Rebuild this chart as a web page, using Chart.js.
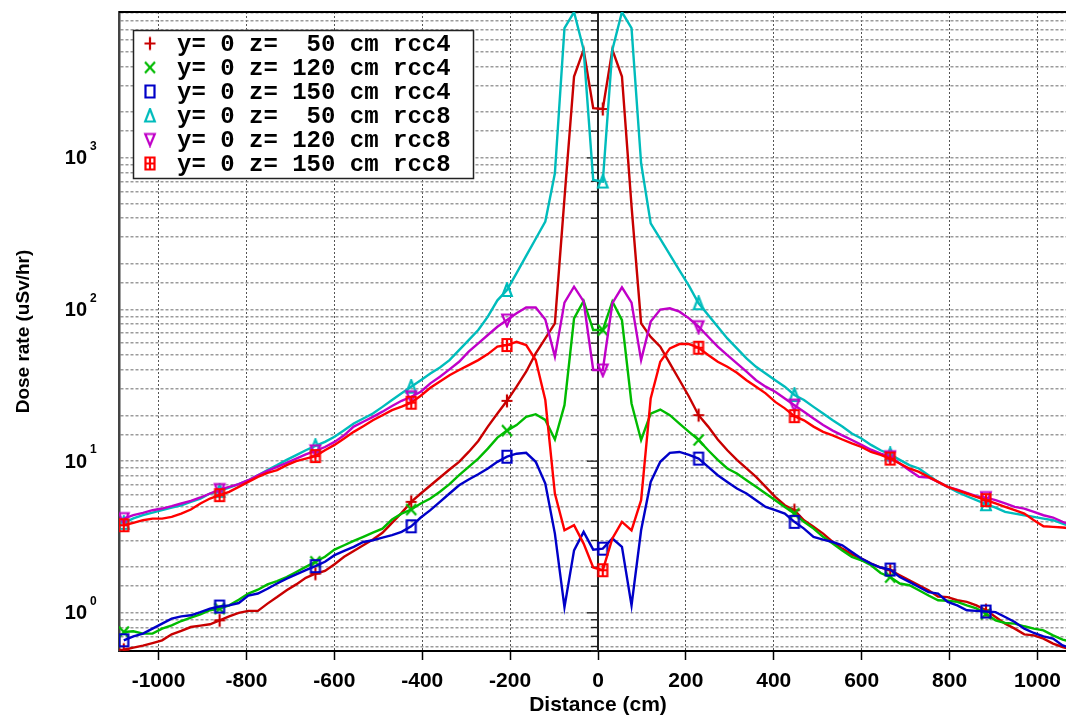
<!DOCTYPE html>
<html>
<head>
<meta charset="utf-8">
<script src="https://cdn.jsdelivr.net/npm/chart.js@4.4.1/dist/chart.umd.min.js"></script>
<style>
  html, body { margin: 0; padding: 0; background: #fff; overflow: hidden; }
  #wrap { width: 1090px; height: 716px; }
</style>
</head>
<body>
<div id="wrap"><canvas id="dose-chart" width="1090" height="716"></canvas></div>
<script>
// bin centres along the scan line (cm)
const distanceCm = [
  -1079.1, -1057.3, -1035.5, -1013.7, -991.9, -970.1, -948.3, -926.5, -904.7, -882.9,
  -861.1, -839.3, -817.5, -795.7, -773.9, -752.1, -730.3, -708.5, -686.7, -664.9,
  -643.1, -621.3, -599.5, -577.7, -555.9, -534.1, -512.3, -490.5, -468.7, -446.9,
  -425.1, -403.3, -381.5, -359.7, -337.9, -316.1, -294.3, -272.5, -250.7, -228.9,
  -207.1, -185.3, -163.5, -141.7, -119.9, -98.1, -76.3, -54.5, -32.7, -10.9,
  10.9, 32.7, 54.5, 76.3, 98.1, 119.9, 141.7, 163.5, 185.3, 207.1,
  228.9, 250.7, 272.5, 294.3, 316.1, 337.9, 359.7, 381.5, 403.3, 425.1,
  446.9, 468.7, 490.5, 512.3, 534.1, 555.9, 577.7, 599.5, 621.3, 643.1,
  664.9, 686.7, 708.5, 730.3, 752.1, 773.9, 795.7, 817.5, 839.3, 861.1,
  882.9, 904.7, 926.5, 948.3, 970.1, 991.9, 1013.7, 1035.5, 1057.3, 1079.1,
];

const rcc4z50 = [
  0.571, 0.589, 0.607, 0.632, 0.658, 0.721, 0.759, 0.806, 0.823, 0.84,
  0.892, 0.948, 1.0, 1.03, 1.03, 1.15, 1.27, 1.41, 1.54, 1.70,
  1.81, 1.89, 2.09, 2.34, 2.56, 2.79, 3.04, 3.37, 3.92, 4.56,
  5.39, 6.12, 6.91, 7.8, 8.81, 9.9, 11.5, 13.6, 16.9, 20.6,
  25.0, 31, 38.9, 51.4, 64.6, 81, 540, 3440, 5160, 2130,
  2100, 5160, 3440, 480, 81, 66, 56.9, 44.2, 34.3, 26.6,
  20.1, 16.9, 13.9, 11.8, 10.2, 8.95, 7.88, 6.77, 5.82, 5.12,
  4.75, 4.08, 3.69, 3.33, 2.93, 2.65, 2.43, 2.28, 2.11, 1.99,
  1.91, 1.77, 1.64, 1.52, 1.41, 1.28, 1.27, 1.21, 1.18, 1.12,
  1.04, 0.939, 0.848, 0.786, 0.721, 0.71, 0.676, 0.626, 0.595, 0.571,
];

const rcc4z120 = [
  0.747, 0.755, 0.729, 0.729, 0.786, 0.827, 0.883, 0.929, 0.977, 1.04,
  1.065, 1.12, 1.22, 1.34, 1.42, 1.54, 1.62, 1.72, 1.86, 2.01,
  2.17, 2.34, 2.61, 2.79, 2.98, 3.17, 3.38, 3.59, 4.12, 4.51,
  4.80, 5.26, 5.67, 6.28, 7.05, 8.08, 9.18, 10.4, 12.1, 14.3,
  15.9, 17.3, 19.6, 20.4, 18.7, 13.9, 23.4, 87.4, 114, 73.2,
  73.2, 113, 85, 24, 13.8, 20.6, 21.9, 20.1, 17.7, 15.6,
  13.8, 11.8, 10.2, 8.95, 8.29, 7.49, 6.77, 6.12, 5.53, 4.99,
  4.51, 3.98, 3.59, 3.17, 2.86, 2.58, 2.34, 2.22, 2.06, 1.83,
  1.72, 1.56, 1.52, 1.41, 1.30, 1.21, 1.2, 1.18, 1.12, 1.07,
  0.987, 0.892, 0.857, 0.848, 0.815, 0.786, 0.766, 0.71, 0.665, 0.642,
];

const rcc4z150 = [
  0.659, 0.70, 0.729, 0.786, 0.848, 0.915, 0.948, 0.963, 1.01, 1.065,
  1.10, 1.12, 1.16, 1.30, 1.34, 1.44, 1.56, 1.68, 1.79, 1.91,
  2.03, 2.17, 2.40, 2.56, 2.72, 2.93, 3.01, 3.13, 3.25, 3.42,
  3.72, 4.25, 4.75, 5.39, 6.12, 6.94, 7.57, 8.2, 8.95, 9.9,
  10.7, 11.2, 11.35, 9.9, 7.12, 3.33, 1.09, 2.58, 3.42, 2.61,
  2.65, 3.09, 2.72, 1.12, 3.5, 7.3, 9.9, 11.35, 11.5, 11.0,
  10.4, 9.18, 8.08, 7.3, 6.6, 6.12, 5.53, 4.99, 4.75, 4.51,
  3.98, 3.59, 3.17, 3.04, 2.93, 2.79, 2.52, 2.28, 2.11, 1.99,
  1.93, 1.72, 1.60, 1.48, 1.37, 1.34, 1.18, 1.12, 1.04, 1.03,
  1.02, 1.01, 0.939, 0.87, 0.786, 0.736, 0.70, 0.676, 0.61, 0.58,
];

const rcc8z50 = [
  3.92, 4.19, 4.41, 4.58, 4.75, 4.94, 5.12, 5.39, 5.67, 6.12,
  6.37, 6.7, 7.05, 7.49, 8.08, 8.72, 9.41, 10.2, 10.96, 11.8,
  12.6, 13.4, 14.5, 16.0, 17.7, 19.1, 20.6, 22.8, 25.3, 28.0,
  31.0, 34.2, 37.9, 41.5, 46.4, 54.0, 62.9, 73.2, 89.7, 115,
  134.5, 174, 226, 293, 380, 792, 7170, 9150, 5160, 716,
  698, 5160, 9150, 7170, 922, 370, 292, 230, 181, 143,
  110, 92, 77, 64.5, 55.4, 47.6, 41.9, 37.9, 34.2, 31.0,
  27.3, 25.3, 22.8, 20.6, 18.6, 16.9, 15.2, 14.1, 12.8, 11.8,
  11.1, 10.2, 9.41, 8.95, 8.08, 7.3, 6.77, 6.28, 5.87, 5.53,
  5.2, 4.94, 4.63, 4.51, 4.40, 4.29, 4.18, 4.08, 3.88, 3.69,
];

const rcc8z120 = [
  4.18, 4.41, 4.56, 4.75, 4.87, 5.05, 5.26, 5.47, 5.76, 6.12,
  6.5, 6.77, 7.05, 7.49, 8.08, 8.63, 9.18, 9.75, 10.4, 11.1,
  11.7, 12.4, 13.4, 14.8, 16.9, 18.2, 19.6, 21.2, 23.1, 25.0,
  26.6, 28.7, 32.6, 36.0, 40.3, 45.2, 52.7, 59.8, 67.9, 77.0,
  85.2, 94.4, 103, 103, 86, 48.9, 111, 141.5, 113, 39.9,
  39.9, 110, 140, 111, 46.4, 83.2, 100, 101.8, 96.8, 87.4,
  77, 66.1, 56.9, 50.1, 44.1, 38.9, 34.2, 31.0, 28.7, 25.9,
  23.4, 21.2, 19.1, 17.3, 15.9, 14.8, 13.8, 12.8, 11.9, 11.2,
  10.7, 9.65, 8.72, 7.88, 7.8, 7.3, 6.77, 6.5, 6.18, 5.87,
  5.75, 5.53, 5.26, 4.99, 4.87, 4.63, 4.40, 4.25, 3.98, 3.78,
];

const rcc8z150 = [
  3.78, 3.92, 4.08, 4.18, 4.18, 4.29, 4.51, 4.80, 5.26, 5.67,
  5.97, 6.28, 6.77, 7.3, 7.88, 8.37, 8.72, 9.41, 10.0, 10.4,
  10.8, 11.8, 12.8, 14.1, 15.6, 17.0, 18.6, 20.1, 21.7, 22.9,
  24.3, 27.0, 30.5, 33.5, 36.9, 39.9, 43.0, 46.4, 50.8, 56.9,
  58.3, 61.3, 58.3, 46.4, 25.3, 6.12, 3.5, 3.78, 2.86, 1.99,
  1.91, 3.09, 3.98, 3.5, 5.53, 25.9, 45.2, 55.4, 59.2, 59.2,
  56, 50.1, 45.2, 41.9, 38.3, 34.2, 31.0, 28.0, 24.6, 22.3,
  19.8, 18.6, 16.9, 15.6, 14.8, 13.9, 13.1, 12.4, 11.5, 11.0,
  10.4, 9.65, 8.95, 8.5, 7.88, 7.3, 6.77, 6.44, 6.12, 5.82,
  5.53, 5.26, 4.99, 4.75, 4.51, 4.08, 3.72, 3.69, 3.65, 3.6,
];

const seriesLabels = [
  "y= 0 z=  50 cm rcc4",
  "y= 0 z= 120 cm rcc4",
  "y= 0 z= 150 cm rcc4",
  "y= 0 z=  50 cm rcc8",
  "y= 0 z= 120 cm rcc8",
  "y= 0 z= 150 cm rcc8",
];
const seriesValues = [rcc4z50, rcc4z120, rcc4z150, rcc8z50, rcc8z120, rcc8z150];
const seriesColors = ["#c80000", "#00bb00", "#0000c8", "#00bcbc", "#c000c8", "#ff0000"];
const seriesMarkers = ["plus", "cross", "rect", "triUp", "triDown", "boxPlus"];
const xTickValues = [-1000, -800, -600, -400, -200, 0, 200, 400, 600, 800, 1000];
const yDecades = [1, 10, 100, 1000];

const sansFont = "'Liberation Sans', Arial, sans-serif";
const monoFont = "'Liberation Mono', 'Courier New', monospace";
Chart.defaults.font.family = sansFont;
Chart.defaults.color = "#000";

function makeMarker(shape, color) {
  const c = document.createElement("canvas");
  c.width = 14;
  c.height = 16;
  const g = c.getContext("2d");
  g.strokeStyle = color;
  g.lineWidth = 2.2;
  g.translate(7, 8);
  g.beginPath();
  if (shape === "plus") {
    g.moveTo(-5.5, 0); g.lineTo(5.5, 0);
    g.moveTo(0, -6.5); g.lineTo(0, 6.5);
  } else if (shape === "cross") {
    g.moveTo(-5, -5.5); g.lineTo(5, 5.5);
    g.moveTo(5, -5.5); g.lineTo(-5, 5.5);
  } else if (shape === "rect") {
    g.rect(-4.5, -6, 9, 12);
  } else if (shape === "triUp") {
    g.moveTo(0, -6.5); g.lineTo(4.8, 6); g.lineTo(-4.8, 6); g.closePath();
  } else if (shape === "triDown") {
    g.moveTo(0, 6); g.lineTo(4.8, -5.5); g.lineTo(-4.8, -5.5); g.closePath();
  } else if (shape === "boxPlus") {
    g.rect(-4.5, -6, 9, 12);
    g.moveTo(-4.5, 0); g.lineTo(4.5, 0);
    g.moveTo(0, -6); g.lineTo(0, 6);
  }
  g.stroke();
  return c;
}

const markerImages = seriesMarkers.map((m, i) => makeMarker(m, seriesColors[i]));

function isDecade(v) {
  const e = Math.log10(v);
  return Math.abs(e - Math.round(e)) < 1e-6;
}

const frameAndLabels = {
  id: "frameAndLabels",
  beforeDatasetsDraw(chart) {
    const { ctx, chartArea: area, scales } = chart;
    const x0 = scales.x.getPixelForValue(0);
    ctx.save();
    // vertical axis through x = 0 with its ticks
    ctx.strokeStyle = "#222";
    ctx.lineWidth = 2;
    ctx.beginPath();
    ctx.moveTo(x0, area.top);
    ctx.lineTo(x0, area.bottom);
    ctx.stroke();
    ctx.lineWidth = 1.3;
    for (const tick of scales.y.ticks) {
      const y = scales.y.getPixelForValue(tick.value);
      const len = isDecade(tick.value) ? 11 : 7;
      ctx.beginPath();
      ctx.moveTo(x0 - len, y);
      ctx.lineTo(x0, y);
      ctx.stroke();
    }
    // frame top
    ctx.strokeStyle = "#000";
    ctx.lineWidth = 2;
    ctx.beginPath();
    ctx.moveTo(area.left, area.top);
    ctx.lineTo(area.right, area.top);
    ctx.stroke();
    ctx.restore();
  },
  afterDraw(chart) {
    const { ctx, scales } = chart;
    ctx.save();
    ctx.fillStyle = "#000";
    ctx.textBaseline = "middle";
    for (const v of yDecades) {
      const y = scales.y.getPixelForValue(v);
      ctx.font = `bold 20px ${sansFont}`;
      ctx.textAlign = "right";
      ctx.fillText("10", 87, y + 1);
      ctx.font = `bold 12px ${sansFont}`;
      ctx.textAlign = "left";
      ctx.fillText(String(Math.round(Math.log10(v))), 90, y - 11);
    }

    // legend box
    ctx.fillStyle = "#fff";
    ctx.fillRect(133, 30, 340, 148);
    ctx.strokeStyle = "#222";
    ctx.lineWidth = 1.5;
    ctx.strokeRect(133.5, 30.5, 340, 148);
    ctx.font = `bold 24px ${monoFont}`;
    ctx.textAlign = "left";
    ctx.fillStyle = "#000";
    seriesLabels.forEach((label, i) => {
      const y = 43.5 + i * 24;
      const img = markerImages[i];
      ctx.drawImage(img, 150 - img.width / 2, y - img.height / 2);
      ctx.fillText(label, 177, y + 1);
    });
    ctx.restore();
  },
};

const datasets = seriesValues.map((values, i) => ({
  label: seriesLabels[i],
  data: distanceCm.map((x, k) => ({ x, y: values[k] })),
  borderColor: seriesColors[i],
  backgroundColor: seriesColors[i],
  borderWidth: 2.4,
  tension: 0,
  fill: false,
  pointStyle: markerImages[i],
  pointRadius: (c) => (c.dataIndex % 10 === 0 ? 5 : 0),
  pointHoverRadius: 0,
  order: seriesValues.length - i,
}));

new Chart(document.getElementById("dose-chart"), {
  type: "line",
  data: { datasets },
  plugins: [frameAndLabels],
  options: {
    responsive: false,
    animation: false,
    events: [],
    layout: { padding: { top: 12, right: 13, bottom: 0, left: 0 } },
    plugins: {
      legend: { display: false },
      tooltip: { enabled: false },
    },
    scales: {
      x: {
        type: "linear",
        min: -1090,
        max: 1090,
        afterBuildTicks: (scale) => {
          scale.ticks = xTickValues.map((value) => ({ value }));
        },
        afterFit: (scale) => { scale.height = 65; },
        ticks: {
          color: "#000",
          padding: 9,
          maxRotation: 0,
          autoSkip: false,
          font: { size: 21, weight: "bold" },
          callback: (v) => String(v),
        },
        grid: {
          color: "#555",
          lineWidth: 1,
          tickLength: 9,
          tickColor: "#000",
          tickWidth: 1.5,
        },
        border: { display: true, color: "#000", width: 2, dash: [2, 2] },
        title: {
          display: true,
          text: "Distance (cm)",
          color: "#000",
          font: { size: 21, weight: "bold" },
          padding: { top: 0, bottom: -2 },
        },
      },
      y: {
        type: "logarithmic",
        min: 0.56,
        max: 9160,
        afterFit: (scale) => { scale.width = 119; },
        ticks: { display: false },
        grid: {
          color: "rgba(130,130,130,0.8)",
          lineWidth: 1.5,
          drawTicks: false,
        },
        border: { display: true, color: "#444", width: 2.5, dash: [3, 2] },
        title: {
          display: true,
          text: "Dose rate (uSv/hr)",
          color: "#000",
          font: { size: 19, weight: "bold" },
          padding: { top: 12, bottom: 0 },
        },
      },
    },
  },
});
</script>
</body>
</html>
